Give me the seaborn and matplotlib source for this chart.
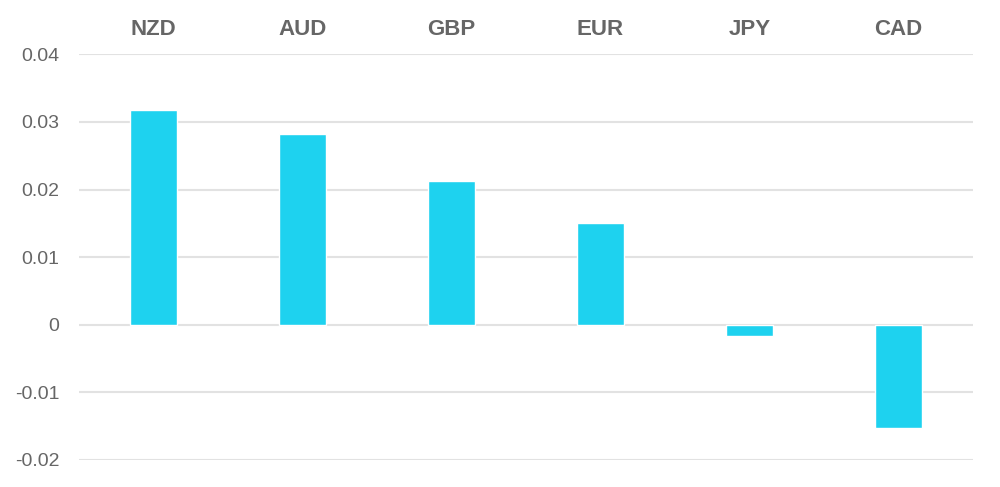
import matplotlib
matplotlib.use("Agg")
import matplotlib.pyplot as plt
import seaborn as sns
import pandas as pd

currencies = ["NZD", "AUD", "GBP", "EUR", "JPY", "CAD"]
values = [0.0318, 0.0282, 0.0212, 0.0151, -0.0017, -0.0152]
y_ticks = [-0.02, -0.01, 0, 0.01, 0.02, 0.03, 0.04]
y_tick_labels = ["-0.02", "-0.01", "0", "0.01", "0.02", "0.03", "0.04"]

sns.set_theme(style="white")
plt.rcParams["font.family"] = ["Liberation Sans", "DejaVu Sans"]

df = pd.DataFrame({"currency": currencies, "value": values})

fig = plt.figure(figsize=(10, 4.87), dpi=100)
ax = fig.add_axes([0.079, 27 / 487, 0.894, (460 - 54.3) / 487])

sns.barplot(data=df, x="currency", y="value", color="#1ED2EF", width=0.31,
            saturation=1, ax=ax, zorder=3)

ax.set_ylim(-0.02, 0.04)
ax.set_xlim(-0.5, 5.5)
ax.set_yticks(y_ticks)
ax.set_yticklabels(y_tick_labels, fontsize=14, color="#666666")
ax.yaxis.grid(True, color="#e2e2e2", linewidth=1.5, zorder=0)
ax.set_axisbelow(True)

ax.xaxis.set_ticks_position("top")
ax.xaxis.set_label_position("top")
for lbl in ax.get_xticklabels():
    lbl.set_fontsize(16)
    lbl.set_fontweight("bold")
    lbl.set_color("#666666")
ax.tick_params(axis="x", length=0, pad=10.5)
ax.tick_params(axis="y", length=0, pad=14)
ax.set_xlabel("")
ax.set_ylabel("")
for s in ax.spines.values():
    s.set_visible(False)

fig.savefig("out.png", dpi=100, facecolor="white")
